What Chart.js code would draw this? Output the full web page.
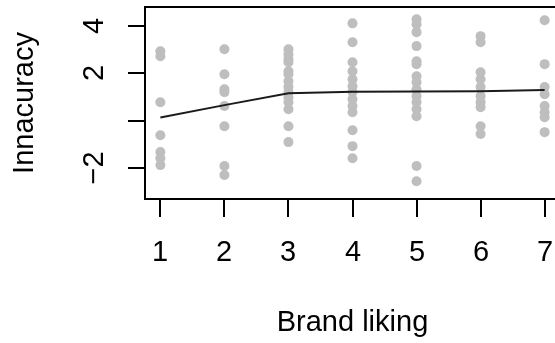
<!DOCTYPE html>
<html>
<head>
<meta charset="utf-8">
<script src="https://cdn.jsdelivr.net/npm/chart.js@4"></script>
<style>
  html, body { margin: 0; padding: 0; background: #fff; overflow: hidden; }
  #wrap { width: 580px; height: 343px; position: relative; }
</style>
</head>
<body>
<div id="wrap"><canvas id="c"></canvas></div>
<script>
const categories = [1, 2, 3, 4, 5, 6, 7];
const xTickLabels = ['1', '2', '3', '4', '5', '6', '7'];
const yTickValues = [-2, 0, 2, 4];
const yTickLabels = ['\u22122', '', '2', '4'];

const liking1 = [2.93, 2.72, 0.78, -0.61, -1.32, -1.58, -1.87];
const liking2 = [3.02, 1.96, 1.33, 1.21, 0.62, -0.23, -1.91, -2.29];
const liking3 = [3.02, 2.81, 2.60, 2.47, 2.09, 1.96, 1.67, 1.42, 1.21, 0.99, 0.78, 0.49, -0.23, -0.90];
const liking4 = [4.11, 3.31, 2.47, 2.09, 1.75, 1.46, 1.21, 0.91, 0.62, 0.36, -0.40, -1.07, -1.58];
const liking5 = [4.28, 4.07, 3.74, 3.15, 2.51, 2.39, 1.88, 1.63, 1.33, 1.04, 0.78, 0.49, 0.19, -1.91, -2.55];
const liking6 = [3.57, 3.31, 2.05, 1.75, 1.42, 1.04, 0.78, 0.57, -0.23, -0.56];
const liking7 = [4.24, 2.39, 1.42, 1.12, 0.62, 0.36, 0.15, -0.48];
const trend = [0.14, 0.66, 1.16, 1.22, 1.24, 1.25, 1.30];

const xLabel = 'Brand liking';
const yLabel = 'Innacuracy';

const groups = [liking1, liking2, liking3, liking4, liking5, liking6, liking7];
const scatterPts = [];
groups.forEach((g, i) => g.forEach(v => scatterPts.push({ x: categories[i], y: v })));
const trendPts = categories.map((c, i) => ({ x: c, y: trend[i] }));

const FONT = '"Liberation Sans", Arial, sans-serif';

const axesPlugin = {
  id: 'rAxes',
  afterDatasetsDraw(chart) {
    const ctx = chart.ctx;
    const a = chart.chartArea;
    const xs = chart.scales.x, ys = chart.scales.y;
    ctx.save();
    ctx.strokeStyle = '#000';
    ctx.lineWidth = 2;
    ctx.strokeRect(a.left, a.top, a.right - a.left, a.bottom - a.top);
    ctx.fillStyle = '#000';
    ctx.font = '29px ' + FONT;
    // x ticks
    ctx.textAlign = 'center';
    ctx.textBaseline = 'middle';
    categories.forEach((c, i) => {
      const px = Math.round(xs.getPixelForValue(c));
      ctx.beginPath();
      ctx.moveTo(px, a.bottom);
      ctx.lineTo(px, a.bottom + 18);
      ctx.stroke();
      ctx.fillText(xTickLabels[i], px, 253);
    });
    // y ticks
    yTickValues.forEach((v, i) => {
      const py = Math.round(ys.getPixelForValue(v));
      ctx.beginPath();
      ctx.moveTo(a.left, py);
      ctx.lineTo(a.left - 17, py);
      ctx.stroke();
      if (yTickLabels[i]) {
        ctx.save();
        ctx.translate(95, py);
        ctx.rotate(-Math.PI / 2);
        ctx.fillText(yTickLabels[i], 0, 0);
        ctx.restore();
      }
    });
    // titles
    ctx.fillText(xLabel, (a.left + a.right) / 2, 323);
    ctx.save();
    ctx.translate(25, (a.top + a.bottom) / 2);
    ctx.rotate(-Math.PI / 2);
    ctx.fillText(yLabel, 0, 0);
    ctx.restore();
    ctx.restore();
  }
};

new Chart(document.getElementById('c'), {
  type: 'scatter',
  data: {
    datasets: [
      {
        type: 'line',
        data: trendPts,
        borderColor: '#1a1a1a',
        borderWidth: 2,
        pointRadius: 0,
        fill: false,
        tension: 0,
        order: 0
      },
      {
        data: scatterPts,
        backgroundColor: '#bebebe',
        borderColor: '#bebebe',
        borderWidth: 0,
        pointRadius: 5,
        order: 1
      }
    ]
  },
  options: {
    responsive: true,
    maintainAspectRatio: false,
    animation: false,
    clip: false,
    layout: { padding: { left: 145, top: 7, right: 20, bottom: 144 } },
    plugins: { legend: { display: false }, tooltip: { enabled: false }, title: { display: false } },
    scales: {
      x: { type: 'linear', min: 0.76, max: 7.24, display: false },
      y: { type: 'linear', min: -3.3, max: 4.8, display: false }
    }
  },
  plugins: [axesPlugin]
});
</script>
</body>
</html>
